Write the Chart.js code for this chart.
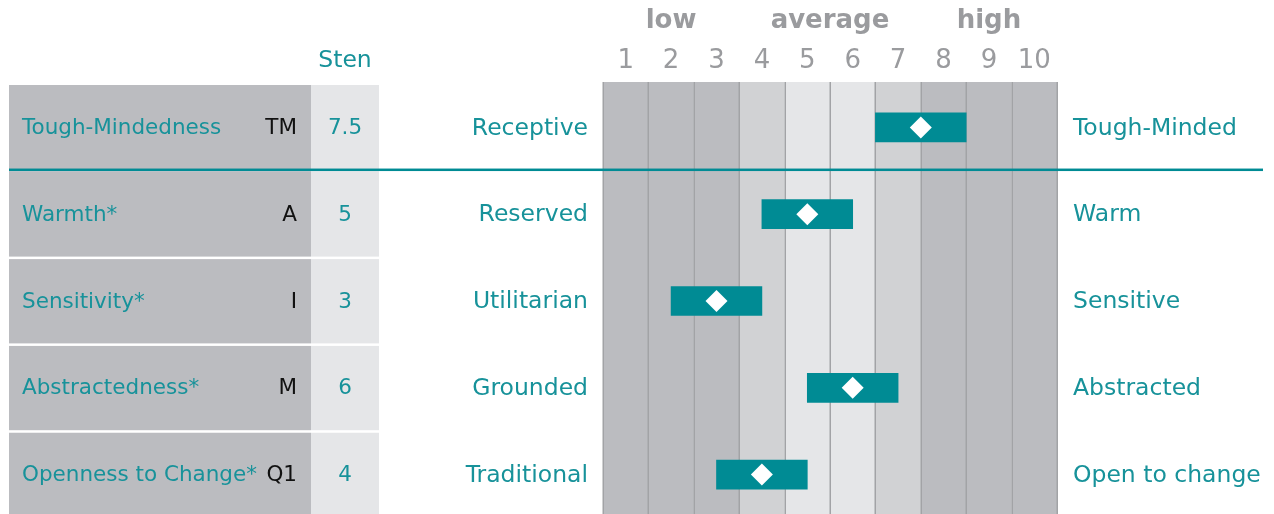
<!DOCTYPE html>
<html>
<head>
<meta charset="utf-8">
<script src="https://cdn.jsdelivr.net/npm/chart.js@4.4.1/dist/chart.umd.min.js"></script>
<style>
  html, body { margin: 0; padding: 0; background: #fff; overflow: hidden; }
  #wrap { position: relative; width: 1274px; height: 518px; }
</style>
</head>
<body>
<div id="wrap"><canvas id="profile"></canvas></div>
<script>
// data
const traits = ["Tough-Mindedness", "Warmth*", "Sensitivity*", "Abstractedness*", "Openness to Change*"];
const codes = ["TM", "A", "I", "M", "Q1"];
const stens = [7.5, 5, 3, 6, 4];
const lowPoles = ["Receptive", "Reserved", "Utilitarian", "Grounded", "Traditional"];
const highPoles = ["Tough-Minded", "Warm", "Sensitive", "Abstracted", "Open to change"];
const stenTicks = [1, 2, 3, 4, 5, 6, 7, 8, 9, 10];
const bandLabels = [["low", 2], ["average", 5.5], ["high", 9]];

const TEAL = "#008b94";
const TEAL_TEXT = "#17929a";
const DARK = "#bbbcc0";
const MID = "#d1d2d4";
const LIGHT = "#e5e6e8";
const GRAYTXT = "#9a9b9e";
const FONT = "'DejaVu Sans', Verdana, sans-serif";

// column shading per sten
const colShade = [DARK, DARK, DARK, MID, LIGHT, LIGHT, MID, DARK, DARK, DARK];

const profilePlugin = {
  id: "profile",
  beforeDatasetsDraw(chart) {
    const { ctx, chartArea, scales } = chart;
    const x = scales.x, y = scales.y;
    const step = y.getPixelForValue(1) - y.getPixelForValue(0);
    ctx.save();
    // grid columns
    stenTicks.forEach((s, i) => {
      const l = x.getPixelForValue(s - 0.5), r = x.getPixelForValue(s + 0.5);
      ctx.fillStyle = colShade[i];
      ctx.fillRect(l, chartArea.top - 2, r - l, chartArea.bottom - chartArea.top + 2);
    });
    ctx.strokeStyle = "#a2a3a6";
    ctx.lineWidth = 1.5;
    for (let s = 0.5; s <= 10.5; s++) {
      const px = Math.round(x.getPixelForValue(s)) + 0.25;
      ctx.beginPath();
      ctx.moveTo(px, chartArea.top - 2);
      ctx.lineTo(px, chartArea.bottom);
      ctx.stroke();
    }
    // left table
    traits.forEach((t, i) => {
      const cy = y.getPixelForValue(i);
      const top = cy - step / 2, bot = cy + step / 2;
      ctx.fillStyle = DARK;
      ctx.fillRect(9, top + 1, 302, bot - top);
      ctx.fillStyle = LIGHT;
      ctx.fillRect(311, top + 1, 68, bot - top);
      if (i > 1) {
        ctx.fillStyle = "#fff";
        ctx.fillRect(9, top - 1, 370, 2.5);
      }
    });
    // teal separator under first row
    const sep = y.getPixelForValue(0) + step / 2 - 1;
    ctx.fillStyle = TEAL;
    ctx.fillRect(9, sep - 1.25, 1254, 2.5);
    ctx.restore();
  },
  afterDraw(chart) {
    const { ctx, chartArea, scales } = chart;
    const x = scales.x, y = scales.y;
    ctx.save();
    ctx.textBaseline = "middle";
    // header
    ctx.font = "bold 26px " + FONT;
    ctx.fillStyle = GRAYTXT;
    ctx.textAlign = "center";
    bandLabels.forEach(([txt, v]) => ctx.fillText(txt, x.getPixelForValue(v), 21));
    ctx.font = "26px " + FONT;
    stenTicks.forEach(s => ctx.fillText(String(s), x.getPixelForValue(s), 61));
    ctx.font = "23.5px " + FONT;
    ctx.fillStyle = TEAL_TEXT;
    ctx.fillText("Sten", 345, 61);
    // rows
    traits.forEach((t, i) => {
      const cy = y.getPixelForValue(i) + 1;
      ctx.font = "21.5px " + FONT;
      ctx.textAlign = "left";
      ctx.fillStyle = TEAL_TEXT;
      ctx.fillText(t, 22, cy);
      ctx.textAlign = "right";
      ctx.fillStyle = "#111";
      ctx.fillText(codes[i], 297, cy);
      ctx.textAlign = "center";
      ctx.fillStyle = TEAL_TEXT;
      ctx.fillText(String(stens[i]), 345, cy);
      ctx.font = "23.5px " + FONT;
      ctx.textAlign = "right";
      ctx.fillText(lowPoles[i], chartArea.left - 15, cy);
      ctx.textAlign = "left";
      ctx.fillText(highPoles[i], chartArea.right + 16, cy);
    });
    ctx.restore();
  }
};

new Chart("profile", {
  type: "bar",
  data: {
    labels: traits,
    datasets: [
      {
        type: "line",
        data: stens.map((s, i) => ({ x: s, y: traits[i] })),
        showLine: false,
        pointStyle: "rectRot",
        pointRadius: 11,
        pointBackgroundColor: "#fff",
        pointBorderWidth: 0,
        order: 0
      },
      {
        data: stens.map(s => [s - 1, s + 1]),
        backgroundColor: TEAL,
        borderWidth: 0,
        barThickness: 29,
        order: 1
      }
    ]
  },
  options: {
    indexAxis: "y",
    responsive: true,
    maintainAspectRatio: false,
    animation: false,
    layout: { autoPadding: false, padding: { left: 603, right: 217, top: 84, bottom: 0 } },
    plugins: { legend: { display: false }, tooltip: { enabled: false } },
    scales: {
      x: { type: "linear", min: 0.5, max: 10.5, display: false },
      y: { type: "category", offset: true, display: false }
    }
  },
  plugins: [profilePlugin]
});
</script>
</body>
</html>
